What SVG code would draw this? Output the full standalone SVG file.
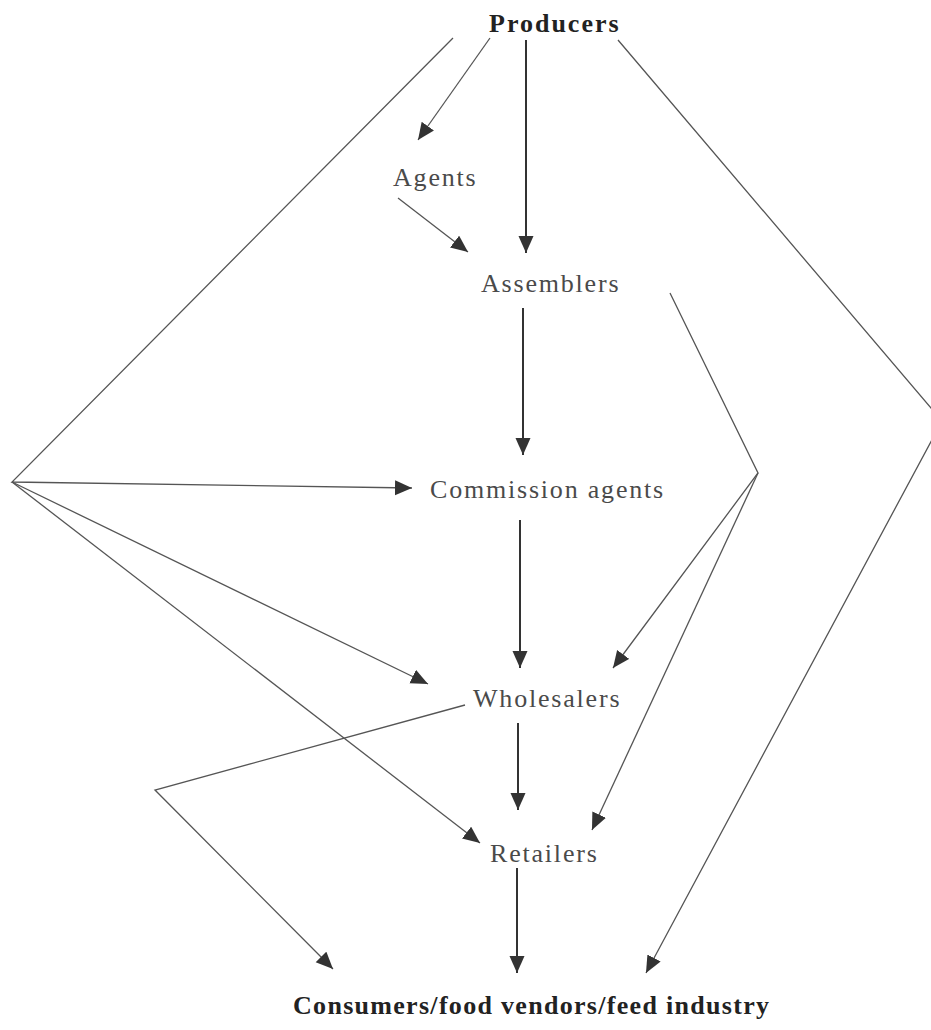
<svg xmlns="http://www.w3.org/2000/svg" width="931" height="1030" viewBox="0 0 931 1030">
<style>
.lbl{font-family:"Liberation Serif","Times New Roman",serif;font-size:26px;fill:#4a4a4a;letter-spacing:1.8px}
.bold{font-family:"Liberation Serif","Times New Roman",serif;font-size:26px;font-weight:bold;fill:#222;}
.ln{fill:none;stroke:#555;stroke-width:1.3}
.vt{fill:none;stroke:#333;stroke-width:2}
</style>
<defs>
<marker id="ah" markerUnits="userSpaceOnUse" markerWidth="18" markerHeight="16" refX="17" refY="7.5" orient="auto">
<path d="M0,0 L17,7.5 L0,15 z" fill="#333"/>
</marker>
</defs>
<rect width="931" height="1030" fill="#fff"/>
<g id="connectors">
<line class="vt" x1="526" y1="40" x2="526" y2="253" marker-end="url(#ah)"/>
<line class="vt" x1="523" y1="308" x2="523" y2="455" marker-end="url(#ah)"/>
<line class="vt" x1="520" y1="520" x2="520" y2="668" marker-end="url(#ah)"/>
<line class="vt" x1="518" y1="723" x2="518" y2="810" marker-end="url(#ah)"/>
<line class="vt" x1="517" y1="868" x2="517" y2="973" marker-end="url(#ah)"/>
<line class="ln" x1="490" y1="38" x2="418" y2="140" marker-end="url(#ah)"/>
<line class="ln" x1="398" y1="198" x2="468" y2="252" marker-end="url(#ah)"/>
<polyline class="ln" points="453,38 12,482 412,488" marker-end="url(#ah)"/>
<line class="ln" x1="12" y1="482" x2="428" y2="684" marker-end="url(#ah)"/>
<line class="ln" x1="12" y1="482" x2="480" y2="843" marker-end="url(#ah)"/>
<polyline class="ln" points="618,40 942,421 646,973" marker-end="url(#ah)"/>
<polyline class="ln" points="670,293 758,473 613,668" marker-end="url(#ah)"/>
<line class="ln" x1="758" y1="473" x2="592" y2="830" marker-end="url(#ah)"/>
<polyline class="ln" points="465,705 155,790 333,969" marker-end="url(#ah)"/>
</g>
<g id="producers"><text class="bold" x="489" y="32" style="letter-spacing:2px">Producers</text></g>
<g id="agents"><text class="lbl" x="393" y="186">Agents</text></g>
<g id="assemblers"><text class="lbl" x="481" y="292">Assemblers</text></g>
<g id="commission"><text class="lbl" x="430" y="498">Commission agents</text></g>
<g id="wholesalers"><text class="lbl" x="473" y="707">Wholesalers</text></g>
<g id="retailers"><text class="lbl" x="490" y="862">Retailers</text></g>
<g id="consumers"><text class="bold" x="293" y="1014" style="letter-spacing:1.3px">Consumers/food vendors/feed industry</text></g>
</svg>
